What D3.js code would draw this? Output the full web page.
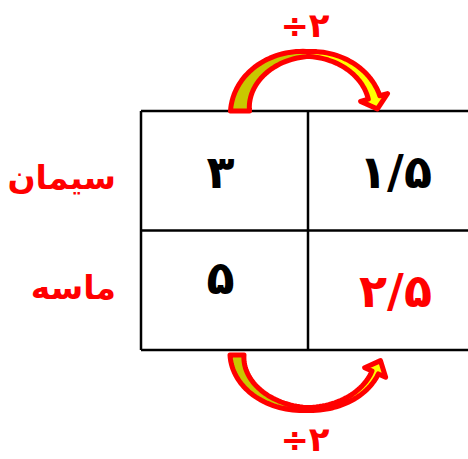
<!DOCTYPE html>
<html>
<head>
<meta charset="utf-8">
<script src="https://cdn.jsdelivr.net/npm/d3@7"></script>
<style>
  body { margin: 0; background: #fff; }
  svg { display: block; }
  text { font-family: "DejaVu Sans", sans-serif; font-weight: bold; }
</style>
</head>
<body>
<div id="chart"></div>
<script>
// table data
var columns = ["before", "after"];
var rowNames = ["سیمان", "ماسه"];
var cellValues = [["۳", "۱/۵"], ["۵", "۲/۵"]];
var answerCells = [[false, false], [false, true]]; // the one worked out
var opLabel = "÷۲";

var width = 468, height = 459;

var svg = d3.select('#chart')
    .append('svg')
    .attr('width', width)
    .attr('height', height);

var x = d3.scaleBand().domain(columns).range([141, 475]);
var y = d3.scaleBand().domain(rowNames).range([111, 350]);

// gradient for the arrows
var grad = svg.append('defs').append('linearGradient')
    .attr('id', 'arrowFill')
    .attr('x1', '0%').attr('x2', '100%').attr('y1', '0%').attr('y2', '0%');
grad.append('stop').attr('offset', '0%').attr('stop-color', '#c8c800');
grad.append('stop').attr('offset', '42%').attr('stop-color', '#c8c800');
grad.append('stop').attr('offset', '58%').attr('stop-color', '#ffff00');
grad.append('stop').attr('offset', '100%').attr('stop-color', '#ffff00');

// grid lines
var grid = svg.append('g').attr('class', 'grid')
    .attr('stroke', '#000').attr('stroke-width', 2.5).attr('fill', 'none');
var xs = [x(columns[0]), x(columns[1]), x.range()[1]];
var ys = [y(rowNames[0]), y(rowNames[1]), y.range()[1]];
xs.forEach(function(v){
    grid.append('line').attr('x1', v).attr('x2', v).attr('y1', ys[0]).attr('y2', ys[2]);
});
ys.forEach(function(v){
    grid.append('line').attr('x1', xs[0]).attr('x2', xs[2]).attr('y1', v).attr('y2', v);
});

// cell values
var cells = [];
cellValues.forEach(function(row, r){
    row.forEach(function(v, c){
        cells.push({r: r, c: c, v: v, answer: answerCells[r][c]});
    });
});
svg.append('g').selectAll('.cell')
    .data(cells)
    .enter()
    .append('text')
    .attr('class', 'cell')
    .attr('x', function(d){ return x(columns[d.c]) + x.bandwidth() / 2 + (d.c == 1 ? 4 : -4); })
    .attr('y', function(d){
        var dy = (d.r == 1 && d.c == 0) ? 4 : 17;
        return y(rowNames[d.r]) + y.bandwidth() / 2 + dy;
    })
    .attr('text-anchor', 'middle')
    .attr('font-size', 46)
    .attr('font-weight', 'normal')
    .attr('fill', function(d){ return d.answer ? '#ff0000' : '#000'; })
    .text(function(d){ return d.v; });

// row labels
svg.append('g').selectAll('.label')
    .data(rowNames)
    .enter()
    .append('text')
    .attr('class', 'label')
    .attr('x', 116)
    .attr('y', function(d, i){ return y(d) + y.bandwidth() / 2 + (i == 0 ? 18 : 9); })
    .attr('text-anchor', 'end')
    .attr('font-size', 33)
    .attr('fill', '#ff0000')
    .text(function(d){ return d; });

// curved arrow: centre, radii, dir -1 = arching up, +1 = hanging down
function curvedArrow(o){
    var pts1 = [], pts2 = [];
    var n = 60;
    var wAt = function(s){
        var h = Math.PI / 2;
        if (s <= h) return o.w0 + (o.wMid - o.w0) * (s / h);
        return o.wMid + (o.wEnd - o.wMid) * ((s - h) / (o.sEnd - h));
    };
    var end, tan, nor;
    for (var i = 0; i <= n; i++){
        var s = o.sEnd * i / n;
        var th = Math.PI - s;
        var px = o.cx + o.rx * Math.cos(th);
        var py = o.cy + o.dir * o.ry * Math.sin(th);
        var dx = o.rx * Math.sin(th), dy = -o.dir * o.ry * Math.cos(th);
        var len = Math.sqrt(dx * dx + dy * dy);
        var tx = dx / len, ty = dy / len;
        var nx = -ty, ny = tx;
        var w = wAt(s);
        pts1.push([px + nx * w, py + ny * w]);
        pts2.push([px - nx * w, py - ny * w]);
        end = [px, py]; tan = [tx, ty]; nor = [nx, ny];
    }
    var head = [
        [end[0] + nor[0] * o.hw, end[1] + nor[1] * o.hw],
        [end[0] + tan[0] * o.hl, end[1] + tan[1] * o.hl],
        [end[0] - nor[0] * o.hw, end[1] - nor[1] * o.hw]
    ];
    var all = pts1.concat(head).concat(pts2.reverse());
    svg.append('path')
        .attr('d', d3.line()(all) + 'Z')
        .attr('fill', 'url(#arrowFill)')
        .attr('stroke', '#ff0000')
        .attr('stroke-width', 5)
        .attr('stroke-linejoin', 'round');
}

var colLine = x(columns[1]);
curvedArrow({cx: colLine, cy: y.range()[0], rx: 68, ry: 57, dir: -1,
    w0: 9.5, wMid: 2.5, wEnd: 6, sEnd: Math.PI - 0.24, hw: 14, hl: 12});
curvedArrow({cx: colLine, cy: y.range()[1] + 5, rx: 71, ry: 54, dir: 1,
    w0: 7, wMid: 1.5, wEnd: 3.5, sEnd: Math.PI - 0.33, hw: 11.5, hl: 13});

// operation labels
svg.append('text')
    .attr('x', colLine - 3).attr('y', 37)
    .attr('text-anchor', 'middle').attr('font-size', 34).attr('fill', '#ff0000')
    .text(opLabel);
svg.append('text')
    .attr('x', colLine - 3).attr('y', 451)
    .attr('text-anchor', 'middle').attr('font-size', 34).attr('fill', '#ff0000')
    .text(opLabel);
</script>
</body>
</html>
